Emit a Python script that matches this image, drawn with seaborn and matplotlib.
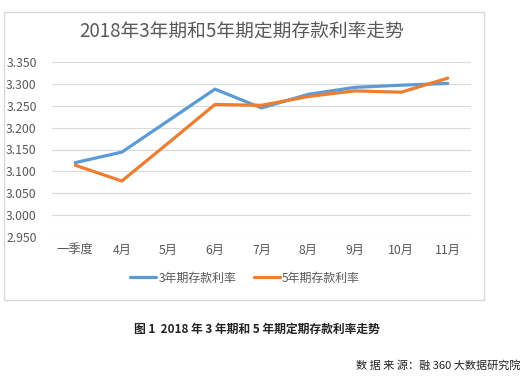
import pandas as pd
import matplotlib
matplotlib.use("Agg")
import matplotlib.pyplot as plt
from matplotlib.patches import Rectangle
import seaborn as sns

# ------------------------------------------
# Data
# ------------------------------------------

months = ["一季度", "4月", "5月", "6月", "7月", "8月", "9月", "10月", "11月"]
rate_3y = [3.120, 3.144, 3.216, 3.288, 3.245, 3.276, 3.292, 3.297, 3.301]
rate_5y = [3.114, 3.078, 3.165, 3.253, 3.251, 3.271, 3.284, 3.281, 3.313]
series_names = ["3年期存款利率", "5年期存款利率"]
yticks = [2.95, 3.00, 3.05, 3.10, 3.15, 3.20, 3.25, 3.30, 3.35]

df = pd.DataFrame({
    "月份": months * 2,
    "利率": rate_3y + rate_5y,
    "类型": [series_names[0]] * len(months) + [series_names[1]] * len(months),
})

# ------------------------------------------
# Style
# ------------------------------------------

sns.set_style("white")
plt.rcParams["font.family"] = ["Noto Sans CJK SC", "DejaVu Sans"]

W, H = 523, 384
fig = plt.figure(figsize=(W / 100, H / 100), dpi=100)

# chart box
fig.patches.append(Rectangle(
    (4 / W, 1 - 300 / H), 480 / W, 288 / H,
    transform=fig.transFigure, fill=False,
    edgecolor="#D9D9D9", linewidth=1
))

ax = fig.add_axes([52 / W, 1 - 237 / H, 419 / W, 175 / H])

sns.lineplot(
    data=df, x="月份", y="利率", hue="类型",
    palette=["#5B9BD5", "#ED7D31"],
    linewidth=2.3, sort=False, ax=ax
)

ax.set_xlim(-0.5, len(months) - 0.5)
ax.set_ylim(2.95, 3.35)
ax.set_yticks(yticks)
ax.set_yticklabels([f"{v:.3f}" for v in yticks])
ax.yaxis.grid(True, color="#D9D9D9", linewidth=0.8)
ax.set_axisbelow(True)
ax.set_xlabel("")
ax.set_ylabel("")
for s in ax.spines.values():
    s.set_visible(False)
ax.tick_params(axis="both", length=0, labelsize=8.8, colors="#595959")
ax.tick_params(axis="y", pad=11)
ax.tick_params(axis="x", pad=5)

ax.legend_.remove()
handles, labels = ax.get_legend_handles_labels()
fig.legend(
    handles, labels, loc="center", bbox_to_anchor=(245 / W, 1 - 278 / H),
    ncol=2, frameon=False, fontsize=8.6, handlelength=2.2,
    handletextpad=0.15, columnspacing=1.5, labelcolor="#595959"
)

fig.text(242 / W, 1 - 32 / H, "2018年3年期和5年期定期存款利率走势",
         ha="center", va="center", fontsize=13.5, color="#595959")

fig.text(257 / W, 1 - 329 / H, "图 1  2018 年 3 年期和 5 年期定期存款利率走势",
         ha="center", va="center", fontsize=8.5, fontweight="bold", color="#222222")

fig.text(521 / W, 1 - 365 / H, "数 据 来 源：融 360 大数据研究院",
         ha="right", va="center", fontsize=8, color="#222222")

plt.savefig("out.png", dpi=100)
